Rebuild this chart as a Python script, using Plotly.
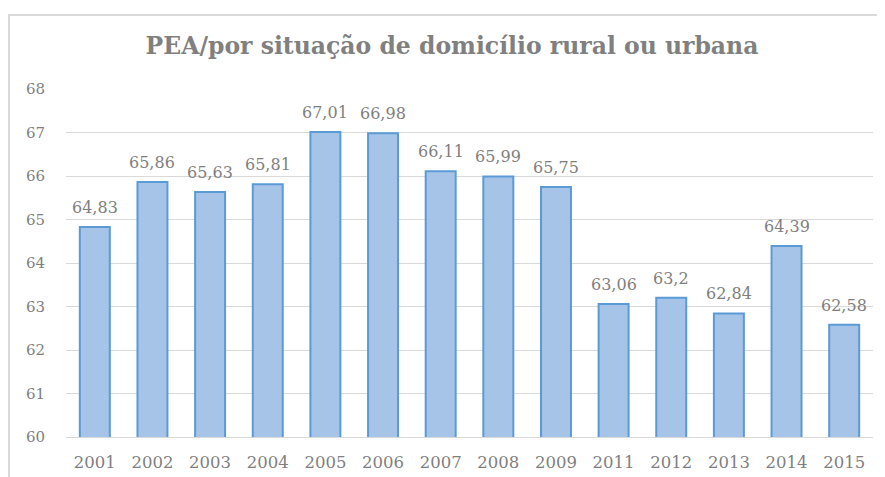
import plotly.graph_objects as go

years = ["2001", "2002", "2003", "2004", "2005", "2006", "2007", "2008", "2009",
         "2011", "2012", "2013", "2014", "2015"]
values = [64.83, 65.86, 65.63, 65.81, 67.01, 66.98, 66.11, 65.99, 65.75,
          63.06, 63.2, 62.84, 64.39, 62.58]
labels = [f"{v:g}".replace(".", ",") for v in values]
title_text = "PEA/por situação de domicílio rural ou urbana"

FONT = "DejaVu Serif, Liberation Serif, serif"
GRAY = "#7f7f7f"

# page body has an 8px default margin; size the figure so the visible area is 885x477
OFF = 8
W, H = 885 - OFF, 477 - OFF
ml, mt = 66 - OFF, 89 - OFF
mr = W - (873 - OFF)
mb = H - (437 - OFF)
pw, ph = W - ml - mr, H - mt - mb


def px_x(x):
    return (x - ml) / pw


def px_y(y):
    return (H - mb - y) / ph


fig = go.Figure(go.Bar(
    x=years, y=values,
    marker=dict(color="#a6c3e8", line=dict(color="#5b9bd5", width=2)),
    hoverinfo="x+y",
))

# labels placed on the category axis by category index
annotations = [
    dict(x=i, y=v, text=lab, xref="x", yref="y", showarrow=False,
         yanchor="bottom", yshift=8,
         font=dict(family=FONT, size=16, color=GRAY))
    for i, (v, lab) in enumerate(zip(values, labels))
]

fig.update_layout(
    width=W, height=H,
    margin=dict(l=ml, r=mr, t=mt, b=mb, autoexpand=False),
    paper_bgcolor="white", plot_bgcolor="white",
    bargap=0.48,
    showlegend=False,
    title=dict(text=title_text, x=(452 - OFF) / W, xref="container", xanchor="center",
               y=1 - (46 - OFF) / H, yref="container", yanchor="middle",
               font=dict(family=FONT, size=23.5, color="#808080", weight="bold")),
    xaxis=dict(type="category", categoryorder="array", categoryarray=years,
               range=[-0.5, len(years) - 0.5],
               showgrid=False, showline=True, linecolor="#d9d9d9",
               linewidth=1, ticks="", ticklabelstandoff=10,
               tickfont=dict(family=FONT, size=16.5, color=GRAY)),
    yaxis=dict(range=[60, 68], dtick=1, showgrid=True, gridcolor="#d9d9d9", gridwidth=1,
               zeroline=False, showline=False, ticks="", ticklabelstandoff=20,
               tickfont=dict(family=FONT, size=15, color=GRAY)),
    annotations=annotations,
    shapes=[
        dict(type="line", xref="paper", yref="paper", x0=px_x(0), x1=px_x(W + 2),
             y0=px_y(7), y1=px_y(7), line=dict(color="#d9d9d9", width=2)),
        dict(type="line", xref="paper", yref="paper", x0=px_x(1), x1=px_x(1),
             y0=px_y(7), y1=px_y(H + 2), line=dict(color="#d9d9d9", width=2)),
    ],
)

fig.write_html("out.html")
